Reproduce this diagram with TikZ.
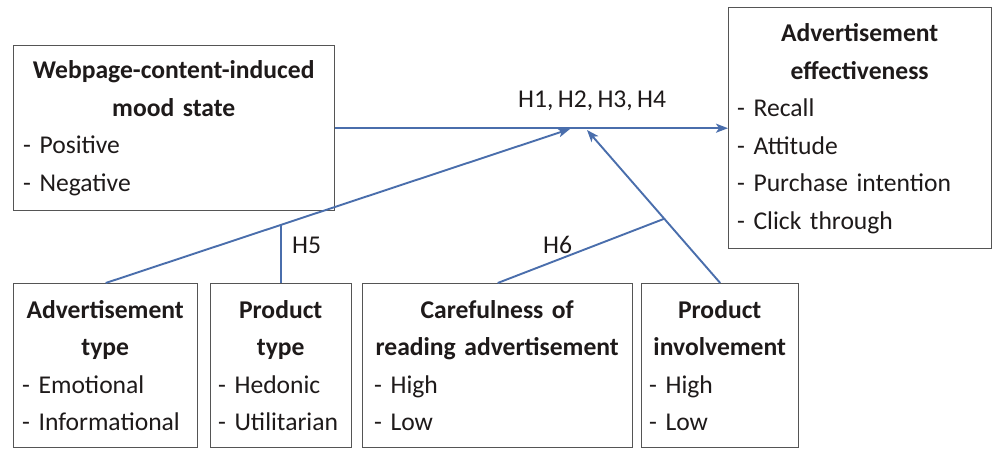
\documentclass[tikz,border=0pt]{standalone}
\usepackage{fontspec}
\setmainfont[WordSpace=0.75]{Carlito}
\usetikzlibrary{arrows.meta,calc}
\definecolor{linkblue}{RGB}{74,110,172}
\definecolor{framegray}{RGB}{85,85,85}
\definecolor{inkdark}{RGB}{30,26,26}
\begin{document}
\begin{tikzpicture}[x=1pt,y=-1pt,
  box/.style={draw=framegray,line width=1.4pt,rectangle,inner sep=0pt,anchor=north west},
  boxtext/.style={inner sep=0pt,anchor=base west,align=left,text=inkdark,
    font=\fontsize{25.6}{37.5}\selectfont},
  hyp/.style={inner sep=0pt,anchor=base west,text=inkdark,font=\fontsize{25.6}{30}\selectfont},
  link/.style={draw=linkblue,line width=1.9pt},
  tip/.style={-{Stealth[length=12pt,width=9pt,inset=3pt]}}
]
\useasboundingbox (0,0) rectangle (993,449);

% boxes
\node[box,minimum width=321pt,minimum height=165pt] (mood) at (13,45) {};
\node[box,minimum width=263pt,minimum height=241pt] (effect) at (728,7) {};
\node[box,minimum width=184pt,minimum height=164pt] (adtype) at (13,283) {};
\node[box,minimum width=141pt,minimum height=164pt] (ptype) at (210,283) {};
\node[box,minimum width=270pt,minimum height=164pt] (careful) at (362,283) {};
\node[box,minimum width=157pt,minimum height=164pt] (involve) at (641,283) {};

% box contents
\node[boxtext,text width=301pt] (moodtxt) at (23,79)
  {{\centering\bfseries Webpage-content-induced\\mood state\par}- Positive\\- Negative};
\node[boxtext,text width=245pt] (effecttxt) at (737,42)
  {{\centering\bfseries Advertisement\\effectiveness\par}- Recall\\- Attitude\\- Purchase intention\\- Click through};
\node[boxtext,text width=166pt] (adtypetxt) at (22,318)
  {{\centering\bfseries Advertisement\\type\par}- Emotional\\- Informational};
\node[boxtext,text width=125pt] (ptypetxt) at (218,318)
  {{\centering\bfseries Product\\type\par}- Hedonic\\- Utilitarian};
\node[boxtext,text width=246pt] (carefultxt) at (374,318)
  {{\centering\bfseries Carefulness of\\reading advertisement\par}- High\\- Low};
\node[boxtext,text width=141pt] (involvetxt) at (649,318)
  {{\centering\bfseries Product\\involvement\par}- High\\- Low};

% connectors
\coordinate (hubA) at (570,129);
\coordinate (hubB) at (587,130);
\draw[link,tip] (mood.east) -- (effect.west);
\draw[link,tip] (adtype.north) -- (hubA);
\draw[link,tip] (involve.north) -- (hubB);
\path (involve.north) -- (hubB) coordinate[pos=0.42] (joinC);
\draw[link] (careful.north) -- (joinC);
\coordinate (upB) at ($(ptype.north)+(0,-100)$);
\coordinate (joinB) at (intersection of ptype.north--upB and adtype.north--hubA);
\draw[link] (ptype.north) -- (joinB);

% hypothesis labels
\node[hyp] (h14) at (518,108) {H1, H2, H3, H4};
\node[hyp] (h5) at (292,253) {H5};
\node[hyp] (h6) at (543,253) {H6};
\end{tikzpicture}
\end{document}
